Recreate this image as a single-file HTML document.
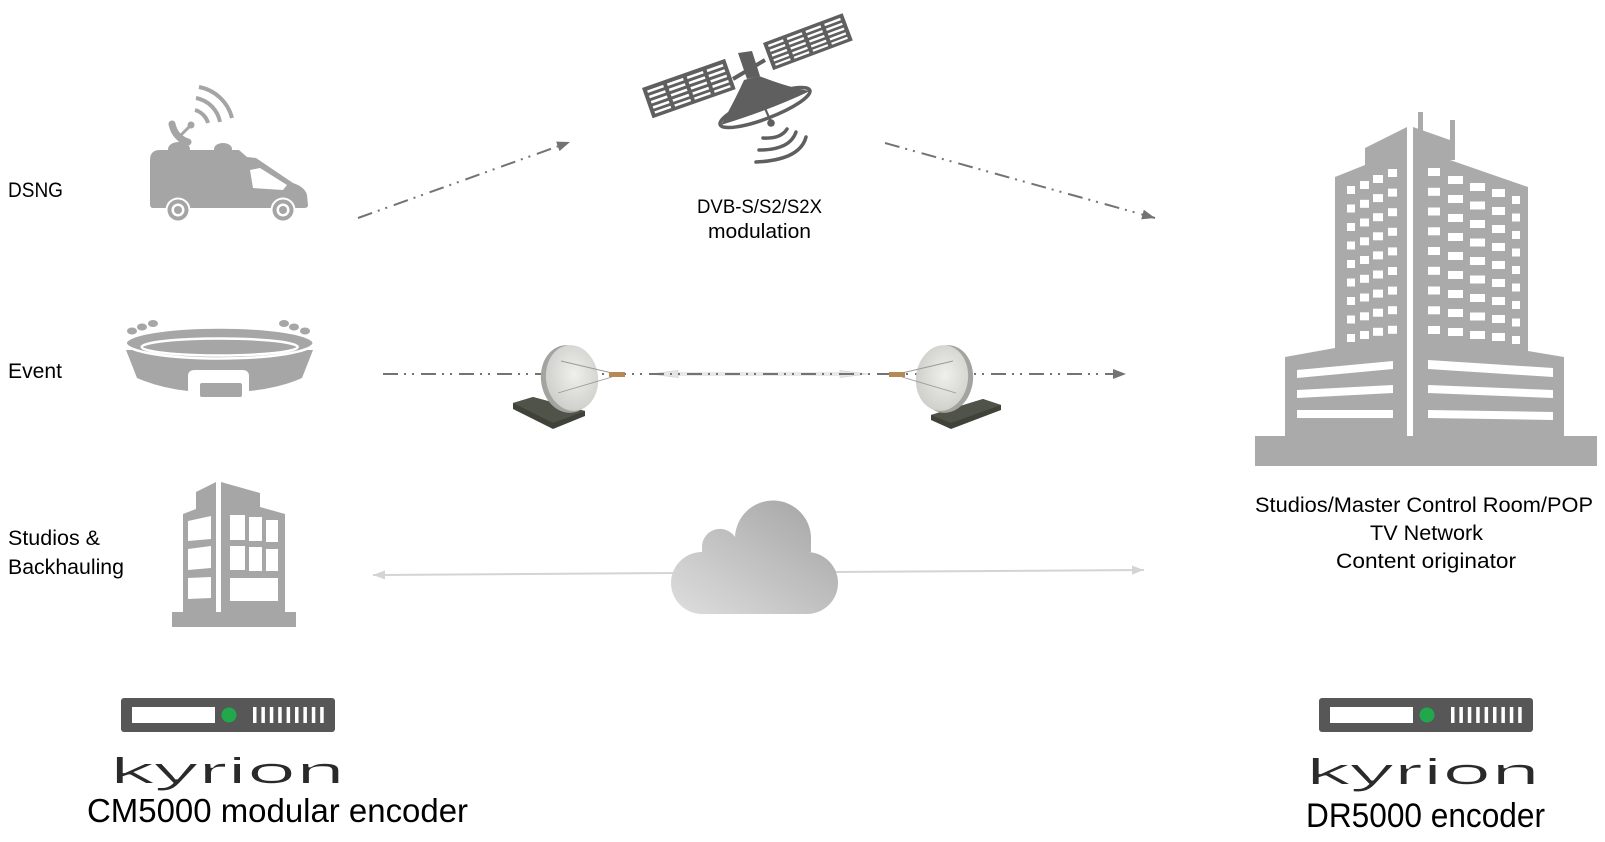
<!DOCTYPE html>
<html><head><meta charset="utf-8"><style>
html,body{margin:0;padding:0;background:#fff;}
svg{display:block;}
text{font-family:"Liberation Sans",Arial,sans-serif;fill:#000;}
</style></head><body>
<svg width="1605" height="842" viewBox="0 0 1605 842" xmlns="http://www.w3.org/2000/svg">
<defs>
  <marker id="ah" markerUnits="userSpaceOnUse" markerWidth="14" markerHeight="11" refX="13" refY="5" orient="auto">
    <path d="M0,0 L13,5 L0,10 Z" fill="#737373"/>
  </marker>
  <marker id="lh" markerUnits="userSpaceOnUse" markerWidth="13" markerHeight="11" refX="12" refY="4.5" orient="auto-start-reverse">
    <path d="M0,0 L12,4.5 L0,9 Z" fill="#d4d4d4"/>
  </marker>
  <linearGradient id="cg" x1="0" y1="1" x2="1" y2="0">
    <stop offset="0" stop-color="#dedede"/>
    <stop offset="1" stop-color="#a2a2a2"/>
  </linearGradient>
  <radialGradient id="dg" cx="0.55" cy="0.45" r="0.6">
    <stop offset="0" stop-color="#efefec"/>
    <stop offset="1" stop-color="#cdcdc9"/>
  </radialGradient>
  <filter id="thin" x="-5%" y="-20%" width="110%" height="140%">
    <feMorphology operator="erode" radius="1 0"/>
  </filter>
</defs>

<!-- ===== Labels ===== -->
<text x="8" y="197" font-size="21" textLength="55" lengthAdjust="spacingAndGlyphs">DSNG</text>
<text x="8" y="378" font-size="21" textLength="54" lengthAdjust="spacingAndGlyphs">Event</text>
<text x="8" y="545" font-size="21" textLength="92" lengthAdjust="spacingAndGlyphs">Studios &amp;</text>
<text x="8" y="574" font-size="21" textLength="116" lengthAdjust="spacingAndGlyphs">Backhauling</text>
<text x="697" y="213" font-size="19" textLength="125" lengthAdjust="spacingAndGlyphs">DVB-S/S2/S2X</text>
<text x="708" y="238" font-size="20" textLength="103" lengthAdjust="spacingAndGlyphs">modulation</text>
<text x="1255" y="512" font-size="21" textLength="338" lengthAdjust="spacingAndGlyphs">Studios/Master Control Room/POP</text>
<text x="1370" y="540" font-size="21" textLength="113" lengthAdjust="spacingAndGlyphs">TV Network</text>
<text x="1336" y="568" font-size="21" textLength="180" lengthAdjust="spacingAndGlyphs">Content originator</text>
<text x="87" y="822" font-size="33" textLength="381" lengthAdjust="spacingAndGlyphs">CM5000 modular encoder</text>
<text x="1306" y="827" font-size="34" textLength="239" lengthAdjust="spacingAndGlyphs">DR5000 encoder</text>

<!-- ===== Connectors ===== -->
<line x1="358" y1="218" x2="570" y2="142" stroke="#737373" stroke-width="2" stroke-dasharray="15 6 2 6 2 7" marker-end="url(#ah)"/>
<line x1="885" y1="143" x2="1155" y2="218" stroke="#737373" stroke-width="2" stroke-dasharray="15 6 2 6 2 7" marker-end="url(#ah)"/>

<!-- beam between dishes -->
<line x1="676" y1="374" x2="842" y2="374" stroke="#e9e9e9" stroke-width="4"/>
<polygon points="650,374 678,370.5 678,377.5" fill="#e6e6e6" stroke="#cfcfcf" stroke-width="0.6"/>
<polygon points="868,374 840,370.5 840,377.5" fill="#e6e6e6" stroke="#cfcfcf" stroke-width="0.6"/>

<line x1="383" y1="374" x2="1126" y2="374" stroke="#737373" stroke-width="2" stroke-dasharray="15 6 2 6 2 7" marker-end="url(#ah)"/>

<line x1="373" y1="575" x2="1144" y2="570" stroke="#d4d4d4" stroke-width="2" marker-start="url(#lh)" marker-end="url(#lh)"/>

<!-- ===== Van ===== -->
<g fill="#a5a5a5">
  <path d="M150,160 Q150,150 160,150 L239,150 L247,157 L256,158 L293,183 Q305,187 307,195 L308,205 Q308,208 304,208 L153,208 Q150,208 150,204 Z"/>
  <ellipse cx="179" cy="149" rx="11" ry="7"/>
  <ellipse cx="223" cy="149" rx="9" ry="6"/>
  <path d="M172,124 Q175,138 188,142" fill="none" stroke="#a5a5a5" stroke-width="7" stroke-linecap="round"/>
  <line x1="180" y1="136" x2="190" y2="126" stroke="#a5a5a5" stroke-width="3"/>
  <circle cx="191" cy="125" r="3.5"/>
  <line x1="181" y1="138" x2="181" y2="148" stroke="#a5a5a5" stroke-width="5"/>
</g>
<polygon points="250,170 260,168 287,185 283,190 253,188" fill="#fff"/>
<g fill="none" stroke="#a5a5a5" stroke-width="4">
  <path d="M195,110 A19,19 0 0 1 208,123"/>
  <path d="M196,98 A30,30 0 0 1 220,122"/>
  <path d="M199,87 A42,42 0 0 1 232,118"/>
</g>
<g>
  <circle cx="178" cy="210" r="12.5" fill="#fff"/>
  <circle cx="178" cy="210" r="10.5" fill="#a5a5a5"/>
  <circle cx="178" cy="210" r="6.5" fill="#fff"/>
  <circle cx="178" cy="210" r="4" fill="#a5a5a5"/>
  <circle cx="283" cy="210" r="12.5" fill="#fff"/>
  <circle cx="283" cy="210" r="10.5" fill="#a5a5a5"/>
  <circle cx="283" cy="210" r="6.5" fill="#fff"/>
  <circle cx="283" cy="210" r="4" fill="#a5a5a5"/>
</g>

<!-- ===== Satellite ===== -->
<g fill="#5f5f5f">
  <line x1="733" y1="79" x2="765" y2="60" stroke="#5f5f5f" stroke-width="4"/>
  <g transform="translate(642,88) rotate(-19.3)">
    <rect x="0" y="0" width="88" height="32"/>
    <g fill="#fff">
      <rect x="4" y="4" width="17" height="2.6"/><rect x="25" y="4" width="17" height="2.6"/><rect x="46" y="4" width="17" height="2.6"/><rect x="67" y="4" width="17" height="2.6"/>
      <rect x="4" y="9.6" width="17" height="2.6"/><rect x="25" y="9.6" width="17" height="2.6"/><rect x="46" y="9.6" width="17" height="2.6"/><rect x="67" y="9.6" width="17" height="2.6"/>
      <rect x="4" y="15.2" width="17" height="2.6"/><rect x="25" y="15.2" width="17" height="2.6"/><rect x="46" y="15.2" width="17" height="2.6"/><rect x="67" y="15.2" width="17" height="2.6"/>
      <rect x="4" y="20.8" width="17" height="2.6"/><rect x="25" y="20.8" width="17" height="2.6"/><rect x="46" y="20.8" width="17" height="2.6"/><rect x="67" y="20.8" width="17" height="2.6"/>
      <rect x="4" y="26.2" width="17" height="2.4"/><rect x="25" y="26.2" width="17" height="2.4"/><rect x="46" y="26.2" width="17" height="2.4"/><rect x="67" y="26.2" width="17" height="2.4"/>
    </g>
  </g>
  <g transform="translate(763,43) rotate(-20.5)">
    <rect x="0" y="0" width="85" height="29"/>
    <g fill="#fff">
      <rect x="4" y="3.5" width="16" height="2.4"/><rect x="24" y="3.5" width="16" height="2.4"/><rect x="44" y="3.5" width="16" height="2.4"/><rect x="64" y="3.5" width="17" height="2.4"/>
      <rect x="4" y="8.6" width="16" height="2.4"/><rect x="24" y="8.6" width="16" height="2.4"/><rect x="44" y="8.6" width="16" height="2.4"/><rect x="64" y="8.6" width="17" height="2.4"/>
      <rect x="4" y="13.7" width="16" height="2.4"/><rect x="24" y="13.7" width="16" height="2.4"/><rect x="44" y="13.7" width="16" height="2.4"/><rect x="64" y="13.7" width="17" height="2.4"/>
      <rect x="4" y="18.8" width="16" height="2.4"/><rect x="24" y="18.8" width="16" height="2.4"/><rect x="44" y="18.8" width="16" height="2.4"/><rect x="64" y="18.8" width="17" height="2.4"/>
      <rect x="4" y="23.6" width="16" height="2.2"/><rect x="24" y="23.6" width="16" height="2.2"/><rect x="44" y="23.6" width="16" height="2.2"/><rect x="64" y="23.6" width="17" height="2.2"/>
    </g>
  </g>
  <polygon points="738,53 752,51 760,76 747,79"/>
  <ellipse cx="765" cy="107.5" rx="48" ry="11" transform="rotate(-21 765 107.5)" fill="#fff" stroke="#5f5f5f" stroke-width="3.5"/>
  <path d="M744,80 L759,76 Q790,88 810,91 Q770,110 721,125 Q735,100 744,80 Z"/>
  <line x1="764" y1="106" x2="771" y2="122" stroke="#5f5f5f" stroke-width="2.2"/>
  <circle cx="771" cy="123" r="3.8"/>
</g>
<g fill="none" stroke="#5f5f5f" stroke-width="3.5" stroke-linecap="round">
  <path d="M763,138 Q781,139 787,129"/>
  <path d="M759,150 Q790,150 796,132"/>
  <path d="M756,162 Q800,160 806,137"/>
</g>

<!-- ===== Stadium ===== -->
<g fill="#a6a6a6">
  <path d="M126,350 L137,378 Q160,388 188,391 L188,376 Q188,370 195,370 L242,370 Q249,370 249,376 L249,391 Q280,388 302,378 L313,350 Z"/>
  <rect x="200" y="383" width="42" height="14" rx="2"/>
  <ellipse cx="219.7" cy="343" rx="94" ry="15.5" stroke="#fff" stroke-width="2.5"/>
  <ellipse cx="219.7" cy="347" rx="78" ry="8.5" fill="none" stroke="#fff" stroke-width="2.5"/>
  <ellipse cx="132" cy="331" rx="5" ry="3.5"/>
  <ellipse cx="142" cy="327" rx="5" ry="3.5"/>
  <ellipse cx="153" cy="323.5" rx="5" ry="3.5"/>
  <ellipse cx="284" cy="323.5" rx="5" ry="3.5"/>
  <ellipse cx="294" cy="327" rx="5" ry="3.5"/>
  <ellipse cx="305" cy="331" rx="5" ry="3.5"/>
</g>

<!-- ===== Small building ===== -->
<g fill="#a6a6a6">
  <polygon points="183,514 196,509 196,492 216,482 216,613 183,613"/>
  <polygon points="221,482 260,493 260,507 285,514 285,613 221,613"/>
  <rect x="172" y="612" width="124" height="15"/>
</g>
<g fill="#fff">
  <polygon points="188,521 211,516 211,539 188,541"/>
  <polygon points="188,549 211,546 211,568 188,570"/>
  <polygon points="188,578 211,577 211,598 188,599"/>
  <rect x="230" y="515" width="15" height="25"/>
  <rect x="249" y="517" width="13" height="24"/>
  <rect x="266" y="520" width="12" height="22"/>
  <rect x="230" y="546" width="15" height="24"/>
  <rect x="249" y="547" width="13" height="24"/>
  <rect x="266" y="549" width="12" height="22"/>
  <rect x="230" y="578" width="48" height="23"/>
</g>

<!-- ===== Dishes & modems ===== -->
<g>
  <polygon points="513,403 533,397 585,411 585,416 553,429 513,409" fill="#3f4239"/>
  <polygon points="513,403 533,397 585,411 553,423" fill="#50534a"/>
  <ellipse cx="568" cy="379" rx="27" ry="34" transform="rotate(-8 568 379)" fill="#a3a39f"/>
  <ellipse cx="572" cy="378" rx="26" ry="33" transform="rotate(-8 572 378)" fill="url(#dg)"/>
  <line x1="561" y1="361" x2="612" y2="373" stroke="#9a9a96" stroke-width="0.9"/>
  <line x1="558" y1="393" x2="612" y2="377" stroke="#9a9a96" stroke-width="0.9"/>
  <rect x="609" y="372" width="16" height="5" fill="#b78a55"/>
</g>
<g>
  <polygon points="931,415 983,399 1001,405 1001,410 951,429 931,420" fill="#3f4239"/>
  <polygon points="931,415 983,399 1001,405 951,423" fill="#50534a"/>
  <ellipse cx="946" cy="379" rx="27" ry="34" transform="rotate(8 946 379)" fill="#a3a39f"/>
  <ellipse cx="942" cy="378" rx="26" ry="33" transform="rotate(8 942 378)" fill="url(#dg)"/>
  <line x1="953" y1="361" x2="902" y2="373" stroke="#9a9a96" stroke-width="0.9"/>
  <line x1="956" y1="393" x2="902" y2="377" stroke="#9a9a96" stroke-width="0.9"/>
  <rect x="889" y="372" width="16" height="5" fill="#b78a55"/>
</g>

<!-- ===== Cloud ===== -->
<g fill="url(#cg)">
  <path d="M702,552 L702,546 A18,18 0 0 1 735,537 A38,38 0 0 1 811,540 L811,552 L807,552 A31,31 0 0 1 838,583 A31,31 0 0 1 807,614 L702,614 A31,31 0 0 1 671,583 A31,31 0 0 1 702,552 Z"/>
</g>

<!-- ===== Big building ===== -->
<g fill="#aaaaaa">
  <polygon points="1285,357 1335,348 1335,177 1365,165 1365,148 1407,127 1407,436 1285,436"/>
  <polygon points="1413,127 1450,140 1450,160 1528,187 1528,351 1564,357 1564,436 1413,436"/>
  <rect x="1418" y="112" width="5" height="20"/>
  <rect x="1450" y="120" width="5" height="40"/>
  <rect x="1255" y="436" width="342" height="30"/>
</g>
<g fill="#fff">
  <rect x="1347" y="186" width="8" height="8"/><rect x="1347" y="204.5" width="8" height="8"/><rect x="1347" y="223" width="8" height="8"/><rect x="1347" y="241.5" width="8" height="8"/><rect x="1347" y="260" width="8" height="8"/><rect x="1347" y="278.5" width="8" height="8"/><rect x="1347" y="297" width="8" height="8"/><rect x="1347" y="315.5" width="8" height="8"/><rect x="1347" y="334" width="8" height="8"/>
  <rect x="1360" y="181" width="9" height="8"/><rect x="1360" y="199.8" width="9" height="8"/><rect x="1360" y="218.5" width="9" height="8"/><rect x="1360" y="237.3" width="9" height="8"/><rect x="1360" y="256" width="9" height="8"/><rect x="1360" y="274.8" width="9" height="8"/><rect x="1360" y="293.5" width="9" height="8"/><rect x="1360" y="312.3" width="9" height="8"/><rect x="1360" y="331" width="9" height="8"/>
  <rect x="1373" y="175" width="10" height="8"/><rect x="1373" y="194.1" width="10" height="8"/><rect x="1373" y="213.2" width="10" height="8"/><rect x="1373" y="232.3" width="10" height="8"/><rect x="1373" y="251.4" width="10" height="8"/><rect x="1373" y="270.5" width="10" height="8"/><rect x="1373" y="289.6" width="10" height="8"/><rect x="1373" y="308.7" width="10" height="8"/><rect x="1373" y="327.8" width="10" height="8"/>
  <rect x="1388" y="169" width="9" height="8"/><rect x="1388" y="188.6" width="9" height="8"/><rect x="1388" y="208.2" width="9" height="8"/><rect x="1388" y="227.8" width="9" height="8"/><rect x="1388" y="247.4" width="9" height="8"/><rect x="1388" y="267" width="9" height="8"/><rect x="1388" y="286.6" width="9" height="8"/><rect x="1388" y="306.2" width="9" height="8"/><rect x="1388" y="325.8" width="9" height="8"/>
  <rect x="1428" y="168" width="12" height="8"/><rect x="1428" y="187.8" width="12" height="8"/><rect x="1428" y="207.5" width="12" height="8"/><rect x="1428" y="227.3" width="12" height="8"/><rect x="1428" y="247" width="12" height="8"/><rect x="1428" y="266.8" width="12" height="8"/><rect x="1428" y="286.5" width="12" height="8"/><rect x="1428" y="306.3" width="12" height="8"/><rect x="1428" y="326" width="12" height="8"/>
  <rect x="1448" y="176" width="15" height="8"/><rect x="1448" y="195" width="15" height="8"/><rect x="1448" y="214" width="15" height="8"/><rect x="1448" y="233" width="15" height="8"/><rect x="1448" y="252" width="15" height="8"/><rect x="1448" y="271" width="15" height="8"/><rect x="1448" y="290" width="15" height="8"/><rect x="1448" y="309" width="15" height="8"/><rect x="1448" y="328" width="15" height="8"/>
  <rect x="1470" y="183" width="15" height="8"/><rect x="1470" y="201.5" width="15" height="8"/><rect x="1470" y="220" width="15" height="8"/><rect x="1470" y="238.5" width="15" height="8"/><rect x="1470" y="257" width="15" height="8"/><rect x="1470" y="275.5" width="15" height="8"/><rect x="1470" y="294" width="15" height="8"/><rect x="1470" y="312.5" width="15" height="8"/><rect x="1470" y="331" width="15" height="8"/>
  <rect x="1492" y="189" width="13" height="8"/><rect x="1492" y="207" width="13" height="8"/><rect x="1492" y="225" width="13" height="8"/><rect x="1492" y="243" width="13" height="8"/><rect x="1492" y="261" width="13" height="8"/><rect x="1492" y="279" width="13" height="8"/><rect x="1492" y="297" width="13" height="8"/><rect x="1492" y="315" width="13" height="8"/><rect x="1492" y="333" width="13" height="8"/>
  <rect x="1512" y="196" width="8" height="8"/><rect x="1512" y="213.5" width="8" height="8"/><rect x="1512" y="231" width="8" height="8"/><rect x="1512" y="248.5" width="8" height="8"/><rect x="1512" y="266" width="8" height="8"/><rect x="1512" y="283.5" width="8" height="8"/><rect x="1512" y="301" width="8" height="8"/><rect x="1512" y="318.5" width="8" height="8"/><rect x="1512" y="336" width="8" height="8"/>
  <polygon points="1297,370 1393,361 1393,369 1297,378"/>
  <polygon points="1297,390 1393,385 1393,393 1297,398"/>
  <polygon points="1297,410 1393,410 1393,418 1297,418"/>
  <polygon points="1428,360 1553,368 1553,377 1428,369"/>
  <polygon points="1428,385 1553,390 1553,398 1428,393"/>
  <polygon points="1428,410 1553,412 1553,420 1428,418"/>
</g>

<!-- ===== Encoders ===== -->
<g>
  <rect x="121" y="698" width="214" height="34" rx="3" fill="#575757"/>
  <rect x="132" y="707" width="83" height="16" fill="#fff"/>
  <circle cx="229" cy="715" r="7.5" fill="#22a84c"/>
  <g fill="#fff">
    <rect x="253" y="707" width="3.5" height="16"/><rect x="261.4" y="707" width="3.5" height="16"/><rect x="269.8" y="707" width="3.5" height="16"/><rect x="278.2" y="707" width="3.5" height="16"/><rect x="286.6" y="707" width="3.5" height="16"/><rect x="295" y="707" width="3.5" height="16"/><rect x="303.4" y="707" width="3.5" height="16"/><rect x="311.8" y="707" width="3.5" height="16"/><rect x="320.2" y="707" width="3.5" height="16"/>
  </g>
</g>
<g>
  <rect x="1319" y="698" width="214" height="34" rx="3" fill="#575757"/>
  <rect x="1330" y="707" width="83" height="16" fill="#fff"/>
  <circle cx="1427" cy="715" r="7.5" fill="#22a84c"/>
  <g fill="#fff">
    <rect x="1451" y="707" width="3.5" height="16"/><rect x="1459.4" y="707" width="3.5" height="16"/><rect x="1467.8" y="707" width="3.5" height="16"/><rect x="1476.2" y="707" width="3.5" height="16"/><rect x="1484.6" y="707" width="3.5" height="16"/><rect x="1493" y="707" width="3.5" height="16"/><rect x="1501.4" y="707" width="3.5" height="16"/><rect x="1509.8" y="707" width="3.5" height="16"/><rect x="1518.2" y="707" width="3.5" height="16"/>
  </g>
</g>

<!-- ===== kyrion logos ===== -->
<text x="110" y="783" font-size="36" textLength="235" lengthAdjust="spacingAndGlyphs" style="fill:#2a2a2a" filter="url(#thin)">kyrion</text>
<text x="1306" y="784" font-size="36" textLength="234" lengthAdjust="spacingAndGlyphs" style="fill:#2a2a2a" filter="url(#thin)">kyrion</text>
</svg>
</body></html>
